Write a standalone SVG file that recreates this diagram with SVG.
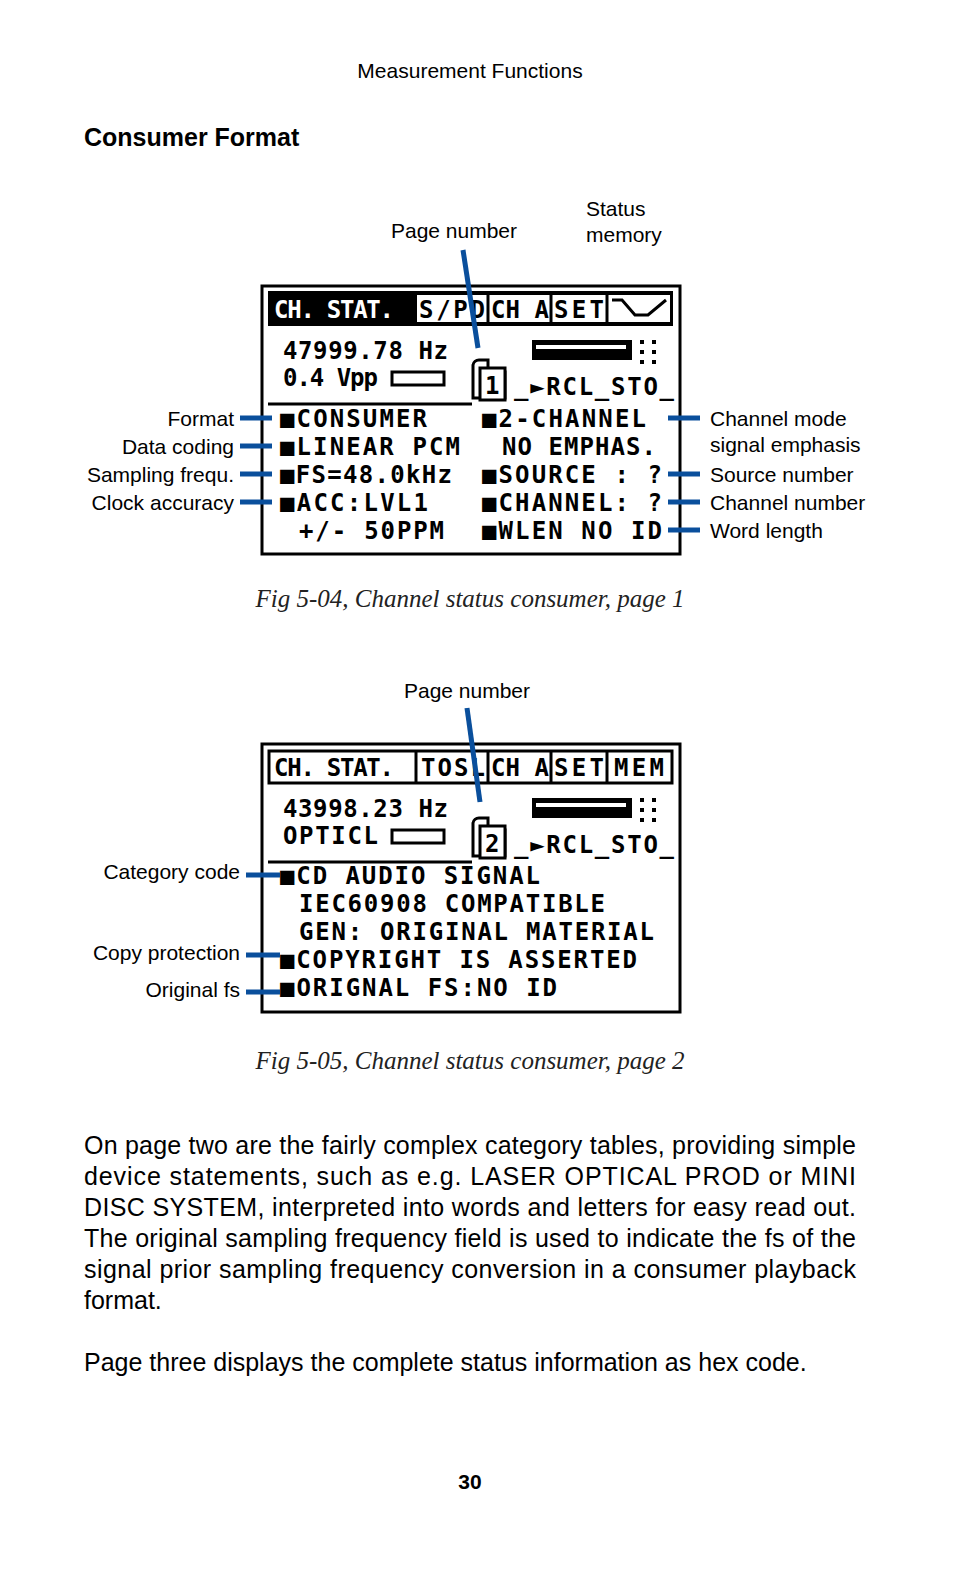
<svg xmlns="http://www.w3.org/2000/svg" width="954" height="1591" viewBox="0 0 954 1591">
<style>
.s{font-family:"Liberation Sans",Arial,sans-serif;font-size:21px;fill:#000}
.b{font-family:"Liberation Sans",Arial,sans-serif;font-size:25px;fill:#000}
.cap{font-family:"Liberation Serif","Times New Roman",serif;font-style:italic;font-size:25px;fill:#222}
.m{font-family:"DejaVu Sans Mono",monospace;font-weight:bold;font-size:24px;fill:#000}
.w{fill:#fff}
.box{fill:#fff;stroke:#000;stroke-width:3}
.ln{stroke:#000;stroke-width:3;fill:none}
.bl{stroke:#0a4f9c;stroke-width:5;fill:none}
</style>
<rect width="954" height="1591" fill="#fff"/>
<text class="s" x="470" y="78" text-anchor="middle">Measurement Functions</text>
<text class="b" x="84" y="146" font-weight="bold" font-size="28">Consumer Format</text>

<g id="screen1">
<rect class="box" x="262" y="286" width="418" height="268"/>
<rect x="268" y="291" width="405" height="35" fill="#000"/>
<rect x="416" y="294" width="255" height="29" fill="#fff" stroke="#000" stroke-width="2"/>
<line class="ln" x1="488" y1="294" x2="488" y2="323"/>
<line class="ln" x1="551" y1="294" x2="551" y2="323"/>
<line class="ln" x1="607" y1="294" x2="607" y2="323"/>
<text class="m w" x="274" y="318" textLength="120">CH. STAT.</text>
<text class="m" x="419" y="318" textLength="66">S/PD</text>
<text class="m" x="491" y="318" textLength="58">CH A</text>
<text class="m" x="554" y="318" textLength="50">SET</text>
<path d="M612 300 L622 300 L635 315 L648 315 L666 300" class="ln"/>
<text class="m" x="283" y="359" textLength="165">47999.78 Hz</text>
<text class="m" x="283" y="386" textLength="95">0.4 Vpp</text>
<rect x="392" y="372" width="52" height="13" fill="none" stroke="#000" stroke-width="3"/>
<line class="ln" x1="268" y1="404" x2="472" y2="404"/>
<path d="M473 398 V365 a6 6 0 0 1 6 -5 H488 V372 H505 V398 Z" fill="#fff" stroke="#000" stroke-width="3"/>
<rect x="480" y="368" width="25" height="32" fill="#fff" stroke="#000" stroke-width="3"/>
<text class="m" x="485" y="394" font-size="22">1</text>
<rect x="532" y="340" width="100" height="20" fill="#000"/>
<rect x="536" y="345" width="90" height="4" fill="#fff"/>
<g fill="#000"><rect x="640" y="340" width="4" height="4"/><rect x="652" y="340" width="4" height="4"/><rect x="640" y="350" width="4" height="4"/><rect x="652" y="350" width="4" height="4"/><rect x="640" y="360" width="4" height="4"/><rect x="652" y="360" width="4" height="4"/></g>
<text class="m" x="514" y="395" textLength="160">_►RCL_STO_</text>
<text class="m" x="280" y="427" textLength="147">■CONSUMER</text>
<text class="m" x="280" y="455" textLength="180">■LINEAR PCM</text>
<text class="m" x="280" y="483" textLength="172">■FS=48.0kHz</text>
<text class="m" x="280" y="511" textLength="148">■ACC:LVL1</text>
<text class="m" x="299" y="539" textLength="145"> +/- 50PPM</text>
<text class="m" x="482" y="427" textLength="164">■2-CHANNEL</text>
<text class="m" x="502" y="455" textLength="154">NO EMPHAS.</text>
<text class="m" x="482" y="483" textLength="180">■SOURCE : ?</text>
<text class="m" x="482" y="511" textLength="180">■CHANNEL: ?</text>
<text class="m" x="482" y="539" textLength="180">■WLEN NO ID</text>
</g>

<g id="screen2">
<rect class="box" x="262" y="744" width="418" height="268"/>
<rect x="269" y="751" width="403" height="32" fill="#fff" stroke="#000" stroke-width="3"/>
<line class="ln" x1="416" y1="751" x2="416" y2="783"/>
<line class="ln" x1="488" y1="751" x2="488" y2="783"/>
<line class="ln" x1="551" y1="751" x2="551" y2="783"/>
<line class="ln" x1="607" y1="751" x2="607" y2="783"/>
<text class="m" x="274" y="776" textLength="120">CH. STAT.</text>
<text class="m" x="421" y="776" textLength="64">TOSL</text>
<text class="m" x="491" y="776" textLength="58">CH A</text>
<text class="m" x="554" y="776" textLength="50">SET</text>
<text class="m" x="614" y="776" textLength="50">MEM</text>
<text class="m" x="283" y="817" textLength="165">43998.23 Hz</text>
<text class="m" x="283" y="844" textLength="95">OPTICL</text>
<rect x="392" y="830" width="52" height="13" fill="none" stroke="#000" stroke-width="3"/>
<line class="ln" x1="268" y1="862" x2="472" y2="862"/>
<path d="M473 856 V823 a6 6 0 0 1 6 -5 H488 V830 H505 V856 Z" fill="#fff" stroke="#000" stroke-width="3"/>
<rect x="480" y="826" width="25" height="32" fill="#fff" stroke="#000" stroke-width="3"/>
<text class="m" x="485" y="852" font-size="22">2</text>
<rect x="532" y="798" width="100" height="20" fill="#000"/>
<rect x="536" y="803" width="90" height="4" fill="#fff"/>
<g fill="#000"><rect x="640" y="798" width="4" height="4"/><rect x="652" y="798" width="4" height="4"/><rect x="640" y="808" width="4" height="4"/><rect x="652" y="808" width="4" height="4"/><rect x="640" y="818" width="4" height="4"/><rect x="652" y="818" width="4" height="4"/></g>
<text class="m" x="514" y="853" textLength="160">_►RCL_STO_</text>
<text class="m" x="280" y="884" textLength="260">■CD AUDIO SIGNAL</text>
<text class="m" x="299" y="912" textLength="306">IEC60908 COMPATIBLE</text>
<text class="m" x="299" y="940" textLength="355">GEN: ORIGINAL MATERIAL</text>
<text class="m" x="280" y="968" textLength="357">■COPYRIGHT IS ASSERTED</text>
<text class="m" x="280" y="996" textLength="277">■ORIGNAL FS:NO ID</text>
</g>

<g id="connectors">
<line class="bl" x1="463" y1="250" x2="478" y2="348"/>
<line class="bl" x1="240" y1="418" x2="272" y2="418"/>
<line class="bl" x1="240" y1="446" x2="272" y2="446"/>
<line class="bl" x1="240" y1="474" x2="272" y2="474"/>
<line class="bl" x1="240" y1="502" x2="272" y2="502"/>
<line class="bl" x1="668" y1="418" x2="700" y2="418"/>
<line class="bl" x1="668" y1="474" x2="700" y2="474"/>
<line class="bl" x1="668" y1="502" x2="700" y2="502"/>
<line class="bl" x1="668" y1="530" x2="700" y2="530"/>
<line class="bl" x1="467" y1="708" x2="480" y2="802"/>
<line class="bl" x1="246" y1="875" x2="280" y2="875"/>
<line class="bl" x1="246" y1="955" x2="280" y2="955"/>
<line class="bl" x1="246" y1="992" x2="280" y2="992"/>
</g>

<g id="labels">
<text class="s" x="454" y="238" text-anchor="middle">Page number</text>
<text class="s" x="586" y="216">Status</text>
<text class="s" x="586" y="242">memory</text>
<text class="s" x="234" y="426" text-anchor="end">Format</text>
<text class="s" x="234" y="454" text-anchor="end">Data coding</text>
<text class="s" x="234" y="482" text-anchor="end">Sampling frequ.</text>
<text class="s" x="234" y="510" text-anchor="end">Clock accuracy</text>
<text class="s" x="710" y="426">Channel mode</text>
<text class="s" x="710" y="452">signal emphasis</text>
<text class="s" x="710" y="482">Source number</text>
<text class="s" x="710" y="510">Channel number</text>
<text class="s" x="710" y="538">Word length</text>
<text class="s" x="467" y="698" text-anchor="middle">Page number</text>
<text class="s" x="240" y="879" text-anchor="end">Category code</text>
<text class="s" x="240" y="960" text-anchor="end">Copy protection</text>
<text class="s" x="240" y="997" text-anchor="end">Original fs</text>
</g>

<text class="cap" x="470" y="607" text-anchor="middle">Fig 5-04, Channel status consumer, page 1</text>
<text class="cap" x="470" y="1069" text-anchor="middle">Fig 5-05, Channel status consumer, page 2</text>

<text class="b" x="84" y="1154" textLength="772">On page two are the fairly complex category tables, providing simple</text>
<text class="b" x="84" y="1185" textLength="772">device statements, such as e.g. LASER OPTICAL PROD or MINI</text>
<text class="b" x="84" y="1216" textLength="772">DISC SYSTEM, interpreted into words and letters for easy read out.</text>
<text class="b" x="84" y="1247" textLength="772">The original sampling frequency field is used to indicate the fs of the</text>
<text class="b" x="84" y="1278" textLength="772">signal prior sampling frequency conversion in a consumer playback</text>
<text class="b" x="84" y="1309">format.</text>
<text class="b" x="84" y="1371">Page three displays the complete status information as hex code.</text>
<text class="s" x="470" y="1489" text-anchor="middle" font-weight="bold">30</text>
</svg>
